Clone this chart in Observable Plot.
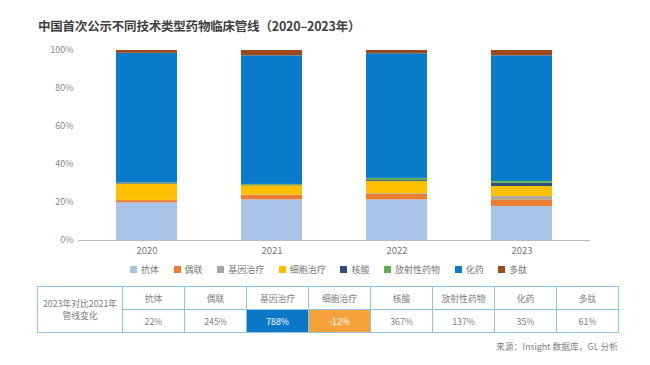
<!DOCTYPE html>
<html><head><meta charset="utf-8">
<script src="https://cdn.jsdelivr.net/npm/d3@7"></script>
<script src="https://cdn.jsdelivr.net/npm/@observablehq/plot@0.6"></script>
<style>
html,body{margin:0;padding:0;background:#fff;width:650px;height:365px;overflow:hidden;font-family:"Noto Sans CJK SC","Noto Sans",sans-serif;}
#title{position:absolute;left:38px;top:16px;font-size:12.5px;font-weight:bold;color:#404040;white-space:nowrap;letter-spacing:-0.2px}
#chart{position:absolute;left:0;top:35px}
#legend{position:absolute;left:130px;top:263px;display:flex;gap:14.6px;font-size:9px;color:#777;white-space:nowrap}
#legend .it{display:flex;align-items:center}
#legend .sw{width:7px;height:7px;margin-right:4px}
#tbl{position:absolute;left:37px;top:286px;border-collapse:collapse;font-size:8.8px;color:#808080;table-layout:fixed}
#tbl td{border:1px solid #8cc4e0;text-align:center;padding:0;height:22px;white-space:nowrap}
#source{position:absolute;right:32px;top:340px;font-size:8.8px;color:#808080;white-space:nowrap}
</style></head>
<body>
<div id="title">中国首次公示不同技术类型药物临床管线（2020–2023年）</div>
<div id="chart"></div>
<div id="legend"></div>
<table id="tbl"></table>
<div id="source">来源：Insight 数据库，GL 分析</div>
<script>
const years = ["2020", "2021", "2022", "2023"];
const types = ["抗体", "偶联", "基因治疗", "细胞治疗", "核酸", "放射性药物", "化药", "多肽"];
const colors = ["#a9c3e8", "#ed7d31", "#a5a5a5", "#ffc000", "#2f4f7a", "#5fae4f", "#0a7bca", "#9b4a1c"];
const share2020 = [19.8, 1.2, 0.1, 8.6, 0.3, 0.3, 68.2, 1.5];
const share2021 = [21.4, 2.3, 0.2, 4.9, 0.2, 0.5, 67.7, 2.8];
const share2022 = [21.4, 3.0, 0.3, 6.3, 0.5, 1.2, 65.6, 1.7];
const share2023 = [17.9, 3.5, 1.7, 5.3, 1.7, 1.0, 66.1, 2.8];
const yTicks = [0, 20, 40, 60, 80, 100];
const changeLabel = ["2023年对比2021年", "管线变化"];
const change = ["22%", "245%", "788%", "-12%", "367%", "137%", "35%", "61%"];
const highlight = {"基因治疗": "#0a78c6", "细胞治疗": "#f5a23a"};

const shares = [share2020, share2021, share2022, share2023];
const data = [];
years.forEach((y, i) => types.forEach((t, j) => data.push({year: y, type: t, value: shares[i][j]})));

const plot = Plot.plot({
  width: 650, height: 225,
  marginLeft: 78, marginRight: 60, marginTop: 15, marginBottom: 20,
  style: {fontFamily: "'Noto Sans CJK SC', sans-serif", fontSize: "9px", color: "#808080", background: "#fff"},
  x: {domain: years, paddingInner: 0.51, paddingOuter: 0.3, label: null},
  y: {domain: [0, 100], label: null},
  color: {domain: types, range: colors},
  marks: [
    Plot.barY(data, {x: "year", y: "value", fill: "type", order: null}),
    Plot.ruleY([0], {stroke: "#bbb", strokeWidth: 1}),
    Plot.axisX({tickSize: 0, tickPadding: 7, fill: "#777", fontSize: 9.5, label: null}),
    Plot.axisY({ticks: yTicks, tickSize: 0, tickPadding: 5, tickFormat: d => d + "%", fill: "#888", fontSize: 9, label: null})
  ]
});
document.getElementById("chart").appendChild(plot);

const leg = document.getElementById("legend");
types.forEach((t, i) => {
  const it = document.createElement("div"); it.className = "it";
  it.innerHTML = `<span class="sw" style="background:${colors[i]}"></span><span>${t}</span>`;
  leg.appendChild(it);
});

const tbl = document.getElementById("tbl");
const cg = document.createElement("colgroup");
cg.innerHTML = `<col style="width:85px">` + types.map(() => `<col style="width:62px">`).join("");
tbl.appendChild(cg);
const r1 = document.createElement("tr");
r1.innerHTML = `<td rowspan="2" style="line-height:12px">${changeLabel.join("<br>")}</td>` + types.map(t => `<td>${t}</td>`).join("");
const r2 = document.createElement("tr");
r2.innerHTML = change.map((c, i) => {
  const bg = highlight[types[i]];
  return bg ? `<td style="background:${bg};color:#fff">${c}</td>` : `<td>${c}</td>`;
}).join("");
tbl.appendChild(r1); tbl.appendChild(r2);
</script>
</body></html>
